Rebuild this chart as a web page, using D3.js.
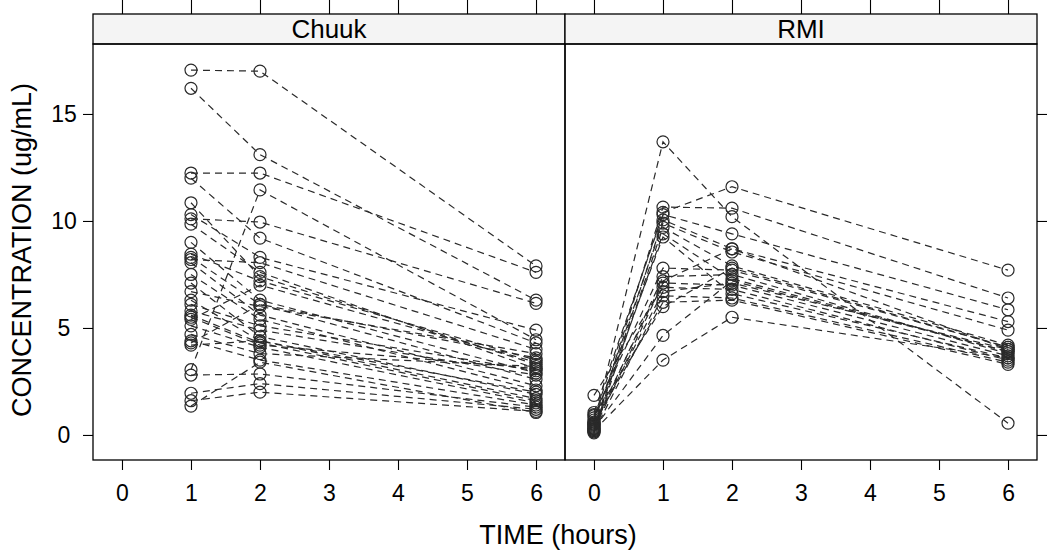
<!DOCTYPE html>
<html><head><meta charset="utf-8">
<script src="https://cdn.jsdelivr.net/npm/d3@7"></script>
<style>body{margin:0;background:#fff}svg{display:block}text{font-family:"Liberation Sans",Arial,sans-serif;fill:#000}</style>
</head><body><svg id="c" width="1050" height="551"></svg>
<script>
// Panels (conditioning groups)
const panels = ["Chuuk", "RMI"];
// Sampling times per panel (hours)
const chuukTimes = [1, 2, 6];
const rmiTimes = [0, 1, 2, 6];
// Chuuk subjects: concentration at 1, 2, 6 h
const chuukValues = [
  [17.05, 17.0, 7.9], [16.2, 13.1, 6.3], [12.24, 12.24, 7.6], [12.0, 9.2, 4.3],
  [10.85, 7.4, 3.3], [10.3, 8.3, 4.9], [10.1, 9.95, 6.15], [9.85, 7.6, 3.1],
  [9.0, 6.3, 2.9], [8.45, 7.2, 3.5], [8.3, 6.1, 2.6], [8.2, 8.05, 4.0],
  [8.05, 5.6, 2.3], [7.5, 5.4, 2.1], [7.1, 4.6, 1.9], [6.7, 6.0, 3.8],
  [6.3, 4.4, 1.7], [6.1, 5.1, 3.0], [5.8, 4.9, 2.8], [5.6, 4.3, 1.6],
  [5.5, 4.2, 3.1], [5.4, 7.0, 3.4], [5.1, 4.1, 1.5], [4.7, 3.8, 3.2],
  [4.4, 3.5, 1.4], [4.3, 6.1, 3.6], [4.2, 4.4, 2.0], [3.05, 11.45, 4.45],
  [2.8, 2.85, 1.3], [1.95, 2.4, 1.2], [1.6, 2.0, 1.1], [1.35, 3.4, 1.05]
];
// RMI subjects: concentration at 0, 1, 2, 6 h
const rmiValues = [
  [0.5, 13.7, 10.2, 0.55], [0.3, 10.65, 10.6, 6.4], [0.8, 10.4, 11.6, 7.7], [1.05, 10.3, 9.4, 5.85],
  [0.2, 10.05, 8.7, 5.3], [0.6, 9.9, 8.55, 4.9], [0.1, 9.7, 7.9, 4.2], [0.4, 9.4, 7.3, 3.9],
  [0.7, 9.25, 6.6, 3.6], [0.95, 7.8, 7.7, 4.1], [0.35, 7.4, 7.5, 3.8], [0.5, 7.2, 8.7, 4.0],
  [0.25, 7.1, 7.0, 3.7], [1.85, 6.9, 6.8, 3.5], [0.45, 6.7, 7.1, 4.0], [0.15, 6.5, 6.4, 3.4],
  [0.55, 6.2, 6.3, 3.3], [0.9, 6.0, 7.8, 4.1], [0.3, 4.65, 7.2, 3.9], [0.2, 3.5, 5.5, 3.6]
];
const xTicks = [0, 1, 2, 3, 4, 5, 6];
const yTicks = [0, 5, 10, 15];

const svg = d3.select("#c");
const pw = 472, pTop = 44, pBottom = 460, stripTop = 14;
const y = d3.scaleLinear().domain([-1.17, 18.27]).range([pBottom, pTop]);
const series = [
  {name: panels[0], times: chuukTimes, values: chuukValues, x0: 93},
  {name: panels[1], times: rmiTimes, values: rmiValues, x0: 565}
];
const line = (x) => d3.line().x(d => x(d[0])).y(d => y(d[1]));
const FF = "Liberation Sans, Arial, sans-serif";

series.forEach((p, i) => {
  const x = d3.scaleLinear().domain([-0.42, 6.42]).range([p.x0, p.x0 + pw]);
  const g = svg.append("g");
  p.values.forEach(v => {
    const pts = p.times.map((t, k) => [t, v[k]]);
    g.append("path").attr("d", line(x)(pts)).attr("fill", "none")
      .attr("stroke", "#2a2a2a").attr("stroke-width", 1.2).attr("stroke-dasharray", "7,5");
    pts.forEach(d => g.append("circle").attr("cx", x(d[0])).attr("cy", y(d[1])).attr("r", 6)
      .attr("fill", "none").attr("stroke", "#2a2a2a").attr("stroke-width", 1.2));
  });
  svg.append("rect").attr("x", p.x0).attr("y", stripTop).attr("width", pw).attr("height", pTop - stripTop)
    .attr("fill", "#f4f4f4").attr("stroke", "#000").attr("stroke-width", 1.3);
  svg.append("text").attr("x", p.x0 + pw / 2).attr("y", pTop - 6).attr("text-anchor", "middle")
    .attr("font-size", 26).text(p.name);
  svg.append("rect").attr("x", p.x0).attr("y", pTop).attr("width", pw).attr("height", pBottom - pTop)
    .attr("fill", "none").attr("stroke", "#000").attr("stroke-width", 1.3);
  const ax = d3.axisBottom(x).tickValues(xTicks).tickSize(10).tickPadding(15).tickFormat(d3.format("d"));
  const gb = svg.append("g").attr("transform", `translate(0,${pBottom})`).call(ax);
  const gt = svg.append("g").attr("transform", `translate(0,${stripTop})`)
    .call(d3.axisTop(x).tickValues(xTicks).tickSize(14).tickFormat(""));
  [gb, gt].forEach(a => { a.select(".domain").remove(); a.selectAll("line").attr("stroke", "#000").attr("stroke-width", 1.1); });
  gb.selectAll("text").attr("font-size", 23).style("font-family", FF).attr("fill", "#000");
});

const gl = svg.append("g").attr("transform", "translate(93,0)")
  .call(d3.axisLeft(y).tickValues(yTicks).tickSize(10));
const gr = svg.append("g").attr("transform", "translate(1037,0)")
  .call(d3.axisRight(y).tickValues(yTicks).tickSize(10).tickFormat(""));
[gl, gr].forEach(a => { a.select(".domain").remove(); a.selectAll("line").attr("stroke", "#000").attr("stroke-width", 1.1); });
gl.selectAll("text").attr("font-size", 23).style("font-family", FF).attr("fill", "#000")
  .attr("text-anchor", "middle").attr("x", -29);

svg.append("text").attr("x", 558).attr("y", 544).attr("text-anchor", "middle").attr("font-size", 27).text("TIME (hours)");
svg.append("text").attr("transform", "translate(31,250) rotate(-90)").attr("text-anchor", "middle")
  .attr("font-size", 27).text("CONCENTRATION (ug/mL)");
</script></body></html>
